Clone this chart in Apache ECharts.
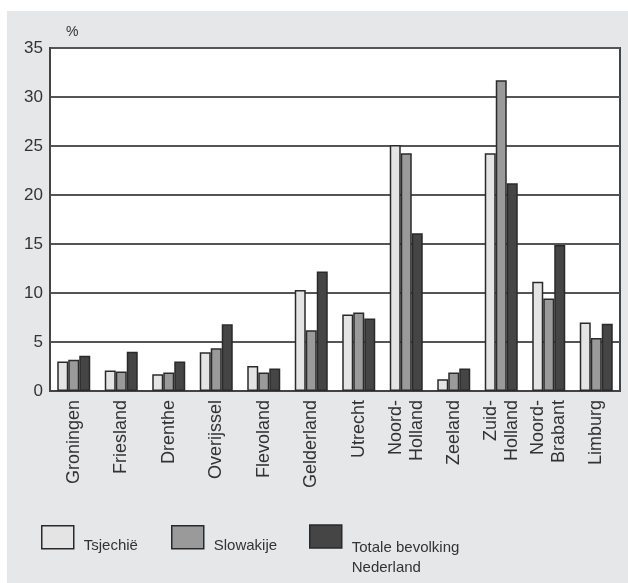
<!DOCTYPE html>
<html>
<head>
<meta charset="utf-8">
<script src="https://cdn.jsdelivr.net/npm/echarts@6/dist/echarts.min.js"></script>
<style>html,body{margin:0;padding:0;background:#fff}#c{width:628px;height:583px}</style>
</head>
<body>
<div id="c"></div>
<script>
const categories = ['Groningen','Friesland','Drenthe','Overijssel','Flevoland','Gelderland','Utrecht','Noord-\nHolland','Zeeland','Zuid-\nHolland','Noord-\nBrabant','Limburg'];
const tsjechie   = [3.0, 2.1, 1.7, 3.95, 2.55, 10.3, 7.8, 25.1, 1.2, 24.25, 11.15, 7.0];
const slowakije  = [3.2, 2.0, 1.9, 4.35, 1.9, 6.2, 8.0, 24.25, 1.9, 31.7, 9.45, 5.4];
const totaal     = [3.6, 4.0, 3.0, 6.8, 2.3, 12.2, 7.4, 16.1, 2.3, 21.2, 14.9, 6.85];
const yTicks = [0, 5, 10, 15, 20, 25, 30, 35];
const seriesNames = ['Tsjechië', 'Slowakije', 'Totale bevolking\nNederland'];

const chart = echarts.init(document.getElementById('c'), null, {renderer: 'canvas'});
const font = 'Liberation Sans, Arial, sans-serif';
const colors = ['#e4e4e4', '#9a9a9a', '#454545'];
const mkSeries = (name, data, i) => ({
  name: name, type: 'bar', data: data, barWidth: 11, barGap: '0%',
  itemStyle: {color: colors[i], borderColor: '#2a2a2a', borderWidth: 1.5},
  z: 3
});
const mkLegend = (name, left) => {
  const multi = name.indexOf('\n') >= 0;
  return {
    data: [name], left: left, top: multi ? 516 : 525, padding: 0,
    itemWidth: 32, itemHeight: 23, icon: 'rect',
    itemStyle: {borderColor: '#2a2a2a', borderWidth: 1.5},
    formatter: n => '{s|}\n' + n.split('\n').map(l => '{t|' + l + '}').join('\n'),
    textStyle: {fontFamily: font, fontSize: 15, color: '#333', padding: [0, 0, 0, 5],
      rich: {
        s: {lineHeight: multi ? 43 : 18, fontSize: 1},
        t: {fontFamily: font, fontSize: 15, color: '#333', lineHeight: 20}
      }},
    selectedMode: false
  };
};
chart.setOption({
  backgroundColor: '#fff',
  animation: false,
  graphic: [{type: 'rect', shape: {x: 7, y: 11, width: 621, height: 572}, style: {fill: '#e6e7e8'}, z: -10, silent: true}],
  grid: {left: 50, right: 8, top: 48, bottom: 192, show: true, backgroundColor: '#fff', borderColor: '#444', borderWidth: 2},
  xAxis: {
    type: 'category', data: categories,
    axisLine: {show: true, lineStyle: {color: '#444', width: 2}},
    axisTick: {show: false},
    axisLabel: {rotate: 90, interval: 0, fontFamily: font, fontSize: 18, color: '#333', margin: 9, lineHeight: 21}
  },
  yAxis: {
    type: 'value', min: 0, max: 35, interval: 5,
    name: '%', nameLocation: 'end', nameGap: 9,
    nameTextStyle: {fontFamily: font, fontSize: 14, color: '#333', align: 'left', padding: [0, 0, 0, 16]},
    axisLine: {show: true, lineStyle: {color: '#444', width: 2}},
    axisTick: {show: false},
    axisLabel: {fontFamily: font, fontSize: 17, color: '#333', margin: 7,
      formatter: v => yTicks.indexOf(v) >= 0 ? String(v) : ''},
    splitLine: {show: true, lineStyle: {color: '#555', width: 2}}
  },
  legend: [mkLegend(seriesNames[0], 41), mkLegend(seriesNames[1], 171), mkLegend(seriesNames[2], 309)],
  series: [mkSeries(seriesNames[0], tsjechie, 0), mkSeries(seriesNames[1], slowakije, 1), mkSeries(seriesNames[2], totaal, 2)]
});
</script>
</body>
</html>
